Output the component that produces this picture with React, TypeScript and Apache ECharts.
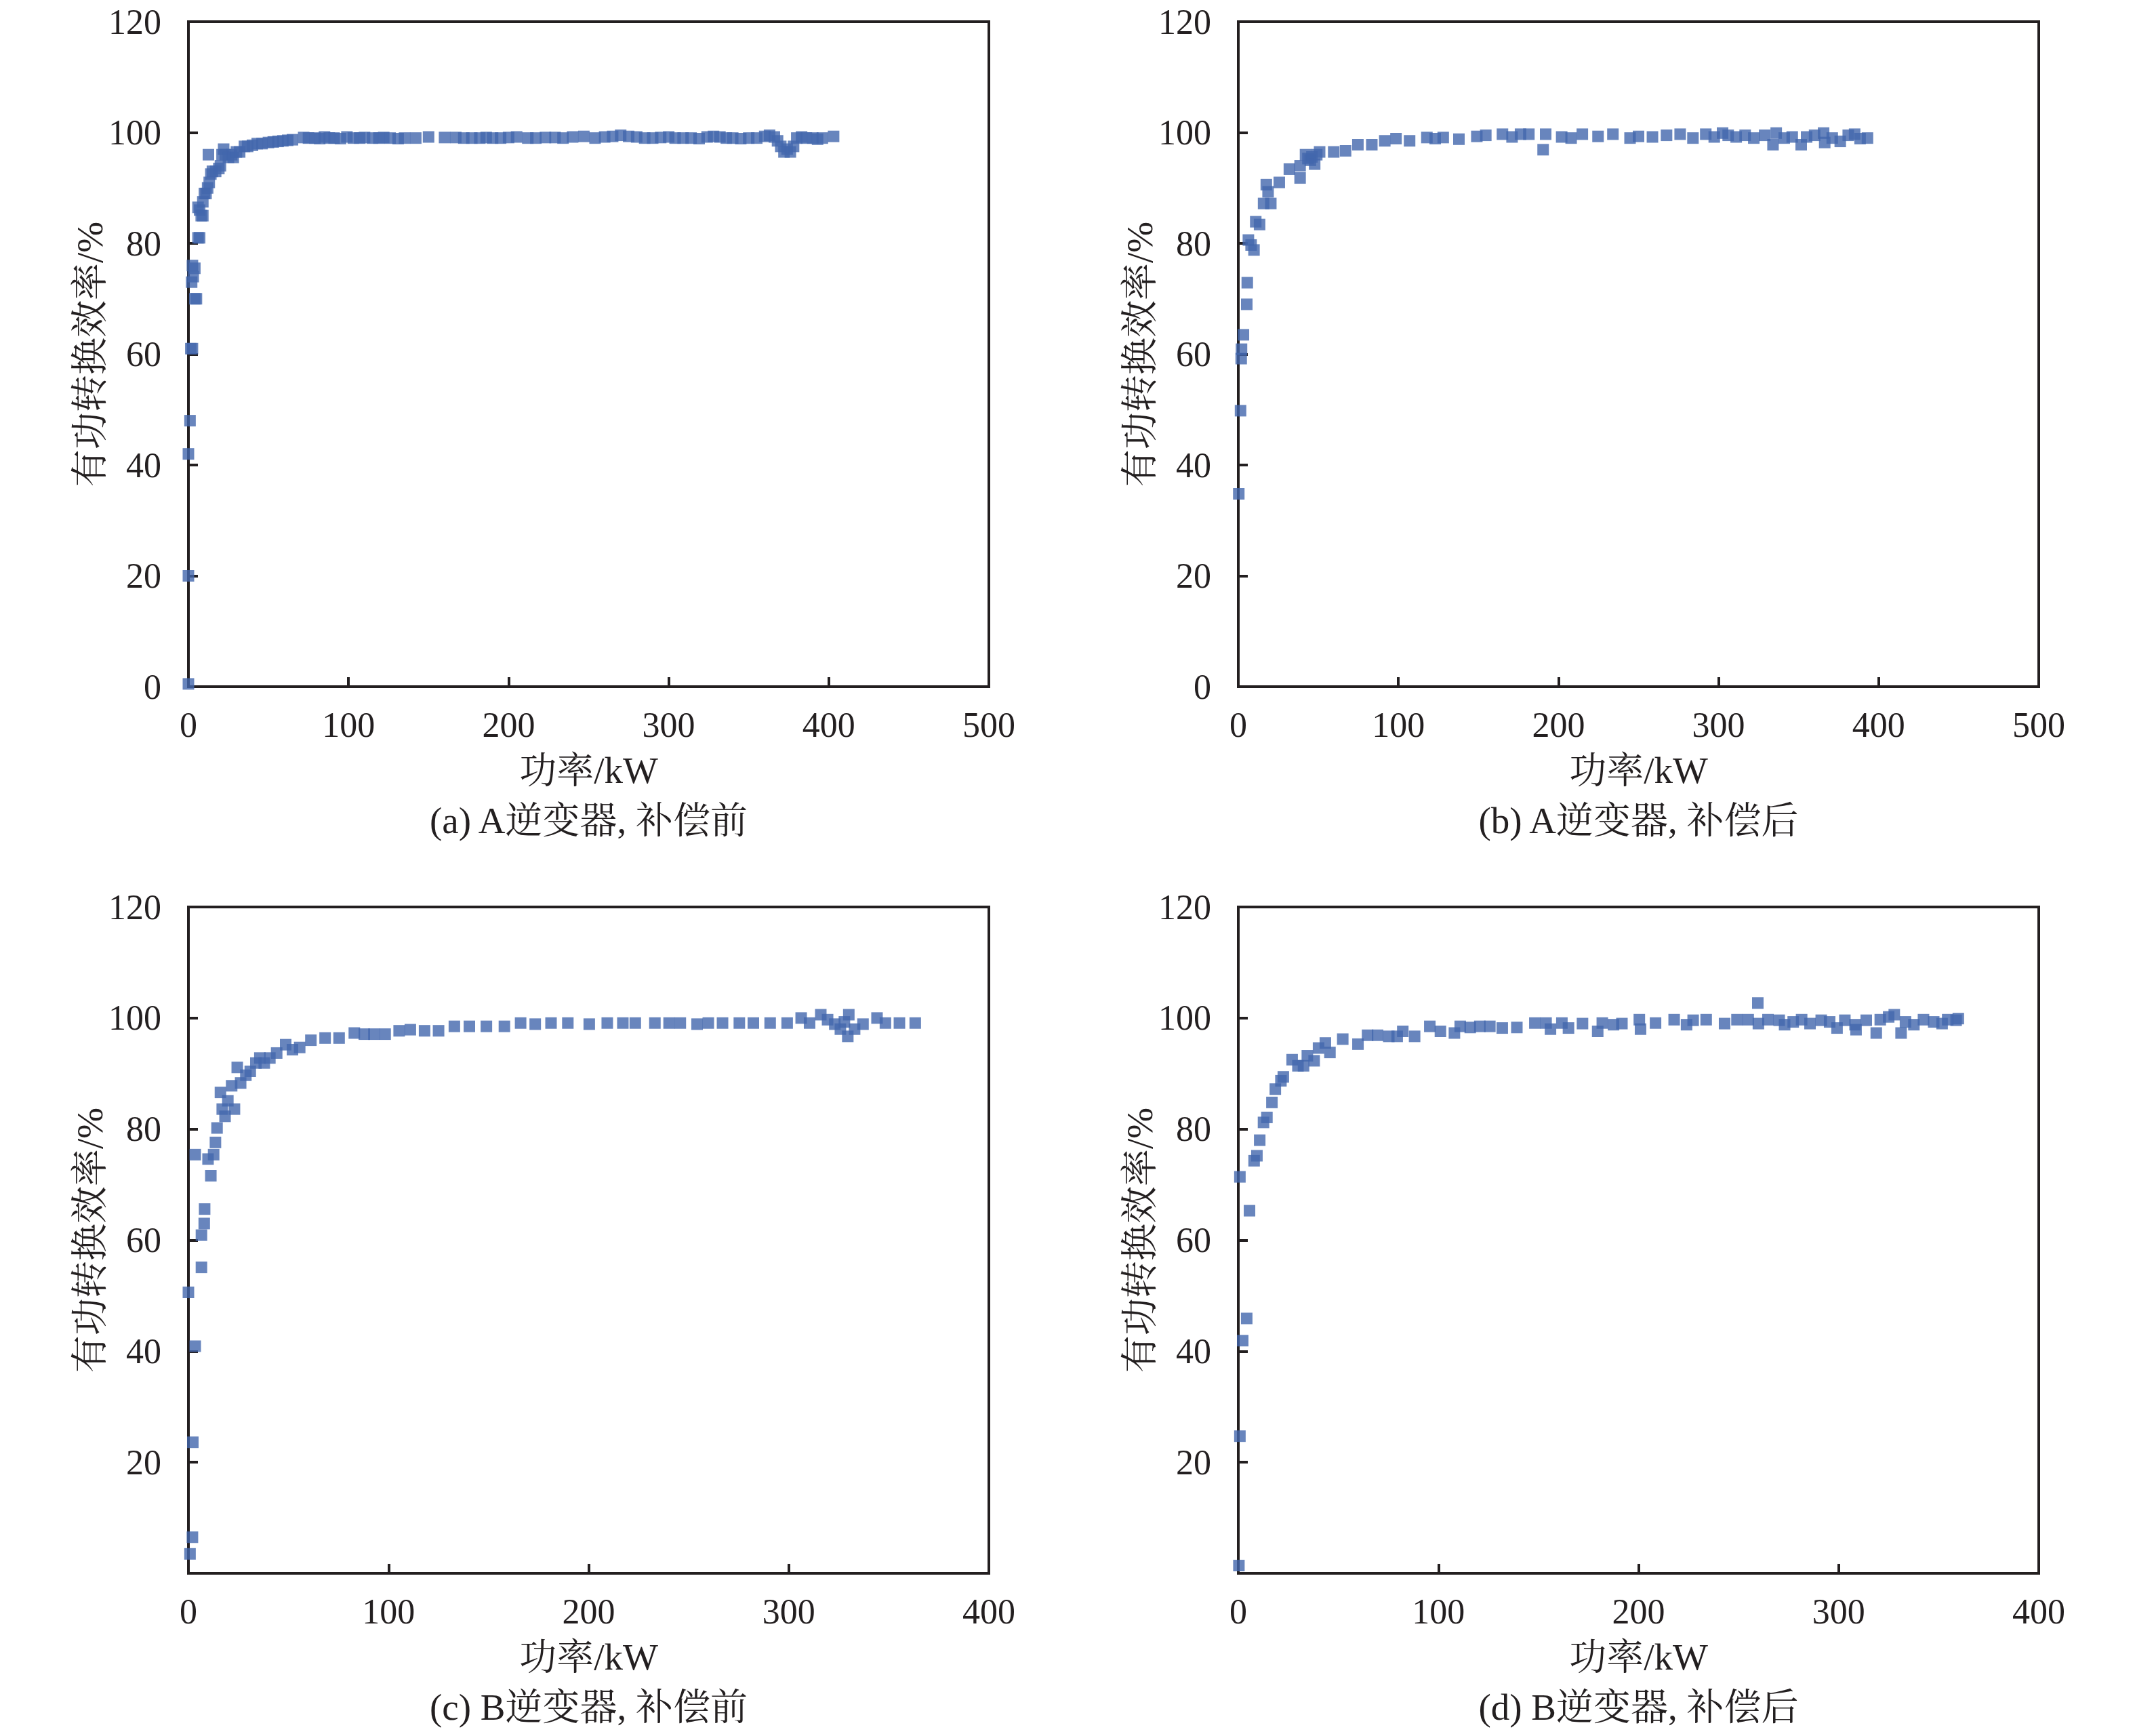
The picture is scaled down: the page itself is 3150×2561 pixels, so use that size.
import React, { useEffect, useRef } from "react";
import * as echarts from "echarts";

// ---------- data ----------
const aX = [0, 0, 0, 1, 1.5, 2.5, 2, 2.5, 3, 4, 5, 4, 6, 7, 6, 7, 8, 9, 9, 10, 11, 12, 12.5, 13, 14, 15, 17, 19, 20, 21, 22, 23, 25, 27, 28, 30, 32, 35, 37, 40, 43, 46, 50, 53, 56, 59, 62, 65, 72, 75, 79, 82, 85, 88, 91, 95, 99, 103, 107, 110, 115, 119, 122, 126, 131, 135, 142, 150, 160, 167, 172, 177, 182, 186, 190, 195, 200, 205, 212, 217, 223, 229, 234, 240, 247, 254, 260, 265, 270, 275, 280, 285, 290, 295, 300, 304, 309, 314, 319, 324, 328, 332, 336, 340, 345, 350, 355, 360, 363, 366, 368, 370, 372, 374, 376, 378, 380, 383, 386, 390, 393, 396, 403];
const aY = [0.5, 20, 42, 48, 61, 61, 73, 76, 74, 70, 70, 75.5, 81, 81, 86.5, 86, 85, 85, 87.5, 89, 89, 90, 96, 91, 92.5, 93, 93, 93.5, 94, 96, 97, 96, 95.5, 96, 95.5, 96.5, 96.5, 97.5, 97.5, 97.7, 98, 98, 98.2, 98.3, 98.4, 98.5, 98.6, 98.7, 99.1, 99, 99, 98.9, 99.2, 99, 99, 98.9, 99.2, 99, 99, 99.1, 99, 99, 99.1, 99, 98.9, 99, 99, 99.2, 99.1, 99.1, 99, 99, 99, 99.1, 99, 99, 99.1, 99.2, 99, 99, 99.1, 99.1, 99, 99.2, 99.3, 99, 99.2, 99.3, 99.5, 99.3, 99.2, 99, 99, 99.1, 99.2, 99, 99, 99, 98.9, 99.2, 99.3, 99.2, 99, 99, 98.9, 99, 99, 99.3, 99.5, 99.2, 98.5, 97.5, 96.5, 97, 96.5, 97.5, 99, 99.2, 99, 99, 98.8, 99, 99.3];

const bX = [0.3, 1.4, 1.8, 2, 3.2, 5.3, 5.6, 6.3, 8, 9.8, 10.9, 13.3, 15.8, 17.5, 18.6, 20.3, 25.6, 31.9, 38.6, 38.6, 42, 43.5, 45, 46, 47.7, 49, 50.8, 59.6, 67, 74.7, 83.4, 91.5, 98.5, 107, 117.8, 123, 128, 137.8, 149, 154.6, 165, 171, 176.3, 181.5, 190.4, 192, 202, 207.9, 214.9, 224.7, 234, 244.7, 250, 258.7, 267.5, 276, 284, 292, 297.3, 302.5, 306, 311, 316.6, 322, 328.8, 334, 336, 341, 346, 351.6, 355, 360, 365.6, 366.3, 371, 376, 381, 385, 388.4, 393];
const bY = [34.8, 49.8, 59.2, 60.9, 63.5, 69, 72.9, 80.6, 79.7, 78.8, 83.9, 83.4, 87.2, 90.6, 89.3, 87.2, 91, 93.4, 94, 91.8, 96, 95.3, 95, 95.6, 94.3, 96, 96.5, 96.5, 96.7, 97.8, 97.8, 98.5, 98.9, 98.5, 99.1, 98.9, 99.1, 98.8, 99.3, 99.5, 99.7, 99.2, 99.7, 99.7, 96.9, 99.7, 99.2, 99, 99.7, 99.3, 99.7, 99, 99.3, 99.2, 99.5, 99.7, 99, 99.7, 99.2, 99.9, 99.5, 99.2, 99.5, 99, 99.5, 97.8, 99.9, 99, 99.2, 97.8, 99.2, 99.5, 99.9, 98.2, 99, 98.4, 99.5, 99.7, 98.9, 99];

const cX = [0.8, 2, 0, 2.2, 3.4, 3.4, 6.5, 6.5, 7.9, 8.1, 9.8, 11.2, 12.6, 13.5, 14.3, 16, 16.9, 18.3, 19.7, 21.6, 23, 24.4, 26.1, 28.7, 30.9, 33.7, 35.7, 37.9, 40.7, 44.1, 48.6, 52, 55.6, 61.2, 68.3, 75.3, 82.9, 87.9, 92.7, 98.3, 105.3, 110.9, 118, 125, 132.9, 140.4, 148.9, 157.9, 166, 173.3, 181.2, 189.6, 200.3, 209.3, 217.1, 223.3, 233.1, 240.2, 245.8, 254.2, 259.8, 266.9, 275.3, 282.3, 290.7, 299.2, 306.2, 310.4, 316, 319.4, 323, 325.8, 327.8, 329.5, 330, 332.9, 337.1, 344.1, 348.3, 355.3, 363.2];
const cY = [3.5, 6.5, 50.6, 23.6, 40.9, 75.4, 55.1, 60.9, 63, 65.6, 74.6, 71.6, 75.4, 77.6, 80.2, 86.6, 83.6, 82.3, 85.1, 87.8, 83.6, 91.1, 88.3, 89.7, 90.4, 91.9, 92.8, 91.9, 92.8, 93.7, 95.2, 94.3, 94.7, 96, 96.4, 96.4, 97.3, 97.1, 97.1, 97.1, 97.7, 97.9, 97.7, 97.7, 98.5, 98.5, 98.5, 98.5, 99.1, 98.9, 99.1, 99.1, 98.9, 99.1, 99.1, 99.1, 99.1, 99.1, 99.1, 98.9, 99.1, 99.1, 99.1, 99.1, 99.1, 99.1, 100, 99.1, 100.6, 99.7, 98.9, 98, 99.3, 96.7, 100.6, 98, 98.9, 100, 99.1, 99.1, 99.1];

const dX = [0.3, 0.8, 0.8, 2.2, 4.2, 5.6, 7.9, 9.3, 10.7, 12.6, 14.3, 16.8, 18.5, 21.3, 22.5, 26.9, 29.8, 32.6, 34.5, 37.9, 40.1, 43.5, 45.8, 52.2, 59.8, 64.6, 69.6, 75.2, 79.4, 82.2, 88.1, 95.7, 101, 108, 110.9, 115.9, 120.7, 125.7, 131.9, 139.2, 148.2, 153.8, 156, 161.7, 165, 172, 179.6, 181.9, 187.5, 191.7, 200.4, 201, 208.5, 217.8, 224, 227.3, 233.8, 243, 249.2, 254.8, 259.6, 259.9, 264.7, 270.3, 273, 277.3, 281.5, 285.7, 291.3, 295.5, 299.2, 303.1, 308.2, 308.7, 313.8, 318.8, 320.8, 325, 327.8, 331.2, 333.4, 337.6, 342.4, 347.5, 351.7, 354.5, 358.7, 359.8];
const dY = [1.4, 24.7, 71.4, 41.9, 45.9, 65.3, 74.3, 75.2, 78, 81.2, 82.1, 84.8, 87.2, 88.7, 89.4, 92.5, 91.4, 91.4, 93.2, 92.3, 94.6, 95.5, 93.8, 96.2, 95.3, 96.9, 96.9, 96.7, 96.7, 97.6, 96.7, 98.5, 97.6, 97.3, 98.5, 98.3, 98.5, 98.5, 98.2, 98.3, 99.1, 99.1, 98, 99.1, 98.2, 99, 97.6, 99.1, 98.8, 99, 99.7, 98, 99.1, 99.7, 98.8, 99.6, 99.7, 99, 99.7, 99.7, 102.7, 99, 99.7, 99.6, 98.8, 99.3, 99.7, 99, 99.6, 99.3, 98.2, 99.6, 98.8, 97.9, 99.6, 97.3, 99.7, 100.2, 100.6, 97.3, 99.3, 98.8, 99.7, 99.3, 99, 99.7, 99.6, 99.9];

const yTicks = [0, 20, 40, 60, 80, 100, 120];
const xMaxTop = 500;
const xMaxBottom = 400;
const captions = ["(a) A逆变器, 补偿前", "(b) A逆变器, 补偿后", "(c) B逆变器, 补偿前", "(d) B逆变器, 补偿后"];
const xName = "功率/kW";
const yName = "有功转换效率/%";

// ---------- layout ----------
const W = 3150;
const H = 2561;
const FONT = "'Liberation Serif', 'Times New Roman', 'Noto Serif CJK SC', 'Noto Sans CJK SC', serif";
const INK = "#231f20";
const DOT = "#4266ad";

const grids = [
  { left: 278, top: 32, width: 1181, height: 981 },
  { left: 1827, top: 32, width: 1181, height: 981 },
  { left: 278, top: 1338, width: 1181, height: 983 },
  { left: 1827, top: 1338, width: 1181, height: 983 },
];

const panelData = [
  [aX, aY],
  [bX, bY],
  [cX, cY],
  [dX, dY],
];

export default function App() {
  const ref = useRef<HTMLDivElement>(null);

  useEffect(() => {
    document.body.style.margin = "0";
    if (!ref.current) return;
    const chart = echarts.init(ref.current, null, { renderer: "svg" });

    const xAxes = grids.map((_, i) => ({
      type: "value",
      gridIndex: i,
      min: 0,
      max: i < 2 ? xMaxTop : xMaxBottom,
      interval: 100,
      axisLine: { show: true, lineStyle: { color: INK, width: 4 } },
      axisTick: { show: true, inside: true, length: 14, lineStyle: { color: INK, width: 4 } },
      axisLabel: { color: INK, fontFamily: FONT, fontSize: 52, margin: 30 },
      splitLine: { show: false },
    }));

    const yAxes = grids.map((_, i) => ({
      type: "value",
      gridIndex: i,
      min: yTicks[0],
      max: yTicks[yTicks.length - 1],
      interval: 20,
      axisLine: { show: true, lineStyle: { color: INK, width: 4 } },
      axisTick: { show: true, inside: true, length: 14, lineStyle: { color: INK, width: 4 } },
      axisLabel: {
        color: INK,
        fontFamily: FONT,
        fontSize: 52,
        margin: 40,
        showMinLabel: i < 2,
      },
      splitLine: { show: false },
    }));

    const series = panelData.map(([xs, ys], i) => ({
      type: "scatter",
      xAxisIndex: i,
      yAxisIndex: i,
      symbol: "rect",
      symbolSize: 17,
      itemStyle: { color: DOT },
      data: xs.map((x, k) => [x, ys[k]]),
      silent: true,
    }));

    const graphics: any[] = [];
    grids.forEach((g, i) => {
      const cx = g.left + g.width / 2;
      const bottom = g.top + g.height;
      graphics.push({
        type: "text",
        x: cx,
        y: bottom + 123,
        style: { text: xName, font: `55px ${FONT}`, fill: INK, textAlign: "center", textVerticalAlign: "middle" },
      });
      graphics.push({
        type: "text",
        x: cx,
        y: bottom + 197,
        style: { text: captions[i], font: `55px ${FONT}`, fill: INK, textAlign: "center", textVerticalAlign: "middle" },
      });
      graphics.push({
        type: "text",
        x: g.left - 146,
        y: g.top + g.height / 2,
        rotation: Math.PI / 2,
        style: { text: yName, font: `55px ${FONT}`, fill: INK, textAlign: "center", textVerticalAlign: "middle" },
      });
    });

    chart.setOption({
      animation: false,
      backgroundColor: "#ffffff",
      grid: grids.map((g) => ({
        ...g,
        show: true,
        borderColor: INK,
        borderWidth: 4,
        backgroundColor: "transparent",
        containLabel: false,
      })),
      xAxis: xAxes,
      yAxis: yAxes,
      series,
      graphic: graphics,
    });

    return () => chart.dispose();
  }, []);

  return <div ref={ref} style={{ width: W, height: H }} />;
}
